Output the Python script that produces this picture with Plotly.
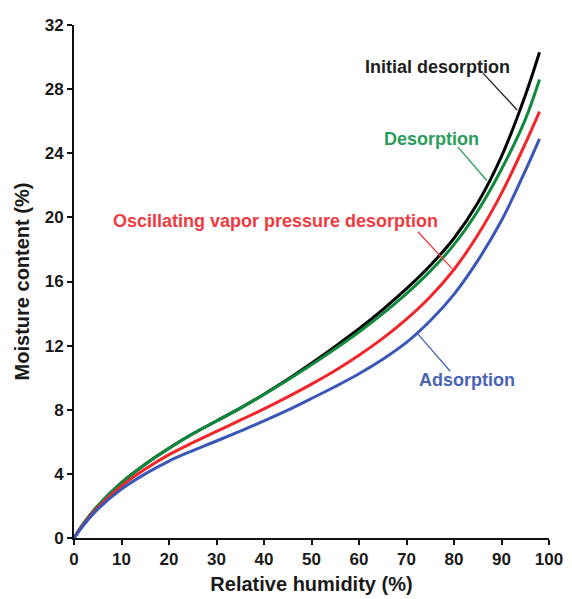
import plotly.graph_objects as go

rh = [0, 2, 5, 10, 15, 20, 25, 30, 35, 40, 45, 50, 55, 60, 65, 70, 75, 80, 85, 90, 95, 98]
initial_desorption = [0, 0.9, 2.0, 3.45, 4.6, 5.6, 6.5, 7.3, 8.1, 8.97, 9.9, 10.9, 11.95, 13.05, 14.25, 15.55, 17.0, 18.7, 20.9, 23.8, 27.6, 30.3]
desorption = [0, 0.9, 2.0, 3.45, 4.6, 5.6, 6.5, 7.3, 8.1, 8.95, 9.85, 10.8, 11.8, 12.85, 14.0, 15.25, 16.65, 18.3, 20.4, 23.0, 26.1, 28.6]
oscillating = [0, 0.85, 1.9, 3.25, 4.3, 5.2, 5.95, 6.65, 7.35, 8.05, 8.8, 9.6, 10.45, 11.4, 12.45, 13.65, 15.05, 16.75, 18.9, 21.5, 24.6, 26.6]
adsorption = [0, 0.8, 1.8, 3.05, 4.0, 4.8, 5.45, 6.05, 6.67, 7.3, 7.97, 8.7, 9.45, 10.25, 11.15, 12.2, 13.55, 15.2, 17.3, 19.8, 22.9, 24.9]

x_ticks = [0, 10, 20, 30, 40, 50, 60, 70, 80, 90, 100]
y_ticks = [0, 4, 8, 12, 16, 20, 24, 28, 32]

series = [
    ("Initial desorption", initial_desorption, "#000000"),
    ("Desorption", desorption, "#0f8a3c"),
    ("Oscillating vapor pressure desorption", oscillating, "#f0262a"),
    ("Adsorption", adsorption, "#3a57b8"),
]

fig = go.Figure()
for name, ys, col in series:
    fig.add_trace(go.Scatter(x=rh, y=ys, mode="lines", name=name,
                             line=dict(color=col, width=3, shape="spline", smoothing=1.0),
                             cliponaxis=False, showlegend=False))

FONT = "Liberation Sans, Arial, sans-serif"
labels = [
    ("Initial desorption", 76.6, 29.4, "#1e1e1e", (86.1, 29.0, 93.3, 26.7), "#222222"),
    ("Desorption", 75.2, 24.9, "#2a9d5c", (80.8, 24.4, 86.9, 22.3), "#2a9d5c"),
    ("Oscillating vapor pressure desorption", 42.4, 19.8, "#f03a3f", (72.4, 19.1, 79.6, 16.8), "#f03a3f"),
    ("Adsorption", 82.7, 9.86, "#4a64b5", (72.2, 12.8, 79.2, 10.4), "#4a64b5"),
]
for text, tx, ty, tc, (x0, y0, x1, y1), lc in labels:
    fig.add_annotation(x=tx, y=ty, xref="x", yref="y", text=text, showarrow=False,
                       font=dict(family=FONT, size=18, color=tc, weight="bold"))
    fig.add_shape(type="line", xref="x", yref="y", x0=x0, y0=y0, x1=x1, y1=y1,
                  line=dict(color=lc, width=1.3))

fig.update_layout(
    width=572, height=599,
    margin=dict(l=74, r=23, t=25, b=61),
    paper_bgcolor="white", plot_bgcolor="white",
    font=dict(family=FONT, color="#1a1a1a"),
)
fig.update_xaxes(range=[0, 100], tickvals=x_ticks, ticks="outside", ticklen=5, tickwidth=2,
                 tickcolor="#111", showline=True, linecolor="#111", linewidth=2,
                 showgrid=False, zeroline=False, automargin=False,
                 tickfont=dict(family=FONT, size=17, color="#1a1a1a", weight="bold"),
                 title=dict(text="Relative humidity (%)", standoff=9,
                            font=dict(family=FONT, size=20, color="#1a1a1a", weight="bold")))
fig.update_yaxes(range=[0, 32], tickvals=y_ticks, ticks="outside", ticklen=5, tickwidth=2,
                 tickcolor="#111", showline=True, linecolor="#111", linewidth=2,
                 showgrid=False, zeroline=False, automargin=False,
                 tickfont=dict(family=FONT, size=17, color="#1a1a1a", weight="bold"),
                 title=dict(text="Moisture content (%)", standoff=10,
                            font=dict(family=FONT, size=20, color="#1a1a1a", weight="bold")))

fig.write_html("out.html", config={"displayModeBar": False},
               post_script="document.body.style.margin='0';document.body.style.overflow='hidden';")
